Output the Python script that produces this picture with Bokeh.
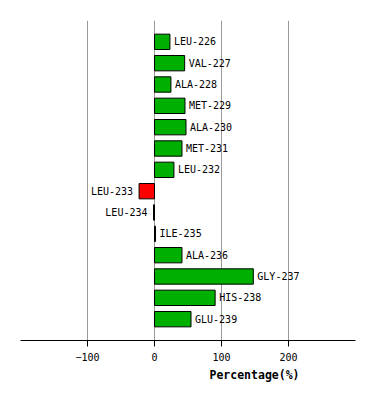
from bokeh.plotting import figure
from bokeh.models import Range1d, FixedTicker, ColumnDataSource, Title
from bokeh.core.properties import value
from bokeh.embed import file_html
from bokeh.resources import INLINE

residues = ["LEU-226", "VAL-227", "ALA-228", "MET-229", "ALA-230", "MET-231", "LEU-232",
            "LEU-233", "LEU-234", "ILE-235", "ALA-236", "GLY-237", "HIS-238", "GLU-239"]
percent = [23, 45, 24.5, 45.5, 47, 41, 29, -23, -1.5, 1.5, 41, 147.5, 90.5, 54.5]
x_ticks = [-100, 0, 100, 200]

pos = list(range(1, len(residues) + 1))
colors = ["#00B000" if v > 0 else "#FF0000" for v in percent]
align = ["left" if v > 0 else "right" for v in percent]
offs = [4 if v > 0 else -6 for v in percent]

src = ColumnDataSource(dict(y=pos, v=percent, c=colors, name=residues, a=align, o=offs))

p = figure(width=366, height=383, output_backend="svg", toolbar_location=None,
           x_range=Range1d(-200, 300), y_range=Range1d(15, 0),
           min_border_left=20, min_border_right=11, min_border_top=20, min_border_bottom=10)
p.outline_line_color = None
p.background_fill_color = "white"
p.border_fill_color = "white"
p.yaxis.visible = False
p.ygrid.visible = False
p.xgrid.ticker = FixedTicker(ticks=x_ticks)
p.xgrid.grid_line_color = "#999999"
p.xgrid.grid_line_width = 1

xa = p.xaxis[0]
xa.ticker = FixedTicker(ticks=x_ticks)
xa.axis_line_color = "black"
xa.major_tick_line_color = "black"
xa.major_tick_out = 6
xa.major_tick_in = 0
xa.minor_tick_line_color = None
xa.major_label_text_font = "DejaVu Sans Mono"
xa.major_label_text_font_size = "10px"
xa.major_label_text_color = "black"
xa.major_label_standoff = 6

p.hbar(y="y", right="v", left=0, height=0.72, fill_color="c", line_color="black",
       line_width=1, source=src)
p.text(x="v", y="y", text="name", text_align="a", x_offset="o", text_baseline="middle",
       text_font=value("DejaVu Sans Mono"), text_font_size="10px", text_color="black",
       source=src)

t = Title(text="Percentage(%)", align="left", offset=189,
          text_font="DejaVu Sans Mono", text_font_size="11.5px", text_font_style="bold",
          text_color="black", standoff=4)
p.add_layout(t, "below")

open("out.html", "w").write(file_html(p, INLINE))
